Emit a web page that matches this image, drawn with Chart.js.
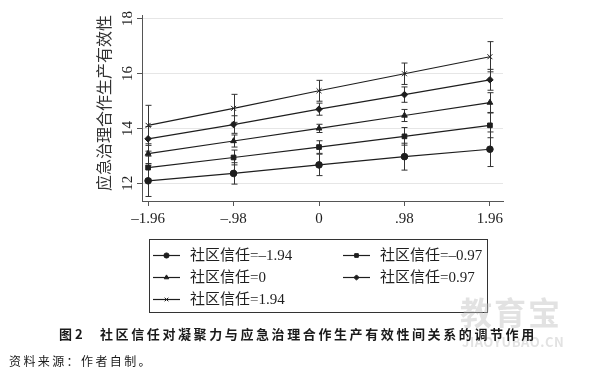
<!DOCTYPE html>
<html>
<head>
<meta charset="utf-8">
<script src="https://cdn.jsdelivr.net/npm/chart.js@4.4.1/dist/chart.umd.min.js"></script>
<style>
  body { margin: 0; background: #fff; }
  #wrap { position: relative; width: 592px; height: 370px; overflow: hidden; }
  #c { position: absolute; left: 0; top: 0; }
  .cap { position: absolute; font-family: 'Noto Sans CJK SC', sans-serif; color: #1a1a1a; white-space: nowrap; }
  .wm { position: absolute; font-family: 'Noto Sans CJK SC', sans-serif; color: rgba(190,190,190,0.45); white-space: nowrap; }
</style>
</head>
<body>
<div id="wrap">
  <canvas id="c" width="592" height="370"></canvas>
  <div class="wm" style="left:460px;top:288px;font-size:32px;font-weight:bold;letter-spacing:2px;">教育宝</div>
  <div class="wm" style="left:462px;top:332px;font-size:13px;font-weight:bold;letter-spacing:0.5px;">JIAOYUBAO.CN</div>
  <div class="cap" style="left:59px;top:324px;font-size:13px;font-weight:bold;">图 2</div>
  <div class="cap" style="left:100px;top:324px;font-size:13px;font-weight:bold;letter-spacing:2.6px;">社区信任对凝聚力与应急治理合作生产有效性间关系的调节作用</div>
  <div class="cap" style="left:9px;top:352px;font-size:12px;letter-spacing:2.4px;">资料来源：作者自制。</div>
</div>
<script>
// x values (cohesion) and tick labels
var xVals = [-1.96, -0.98, 0, 0.98, 1.96];
var xLabels = ['–1.96', '–.98', '0', '.98', '1.96'];
var yTicks = [12, 14, 16, 18];

var trustLabels = ['社区信任=–1.94', '社区信任=–0.97', '社区信任=0', '社区信任=0.97', '社区信任=1.94'];
var pointStyles = ['circle', 'rect', 'triangle', 'rectRot', 'crossRot'];

// predicted values for each trust level
var trustM194 = [12.09, 12.36, 12.67, 12.97, 13.24];
var trustM097 = [12.57, 12.94, 13.32, 13.71, 14.11];
var trust0    = [13.08, 13.54, 14.00, 14.47, 14.94];
var trustP097 = [13.62, 14.14, 14.70, 15.23, 15.77];
var trustP194 = [14.11, 14.73, 15.37, 15.99, 16.61];

// half width of the confidence intervals
var ciM194 = [0.57, 0.39, 0.39, 0.49, 0.63];
var ciM097 = [0.42, 0.27, 0.23, 0.32, 0.45];
var ci0    = [0.36, 0.22, 0.15, 0.22, 0.36];
var ciP097 = [0.45, 0.32, 0.22, 0.28, 0.38];
var ciP194 = [0.73, 0.51, 0.38, 0.39, 0.55];

var seriesVals = [trustM194, trustM097, trust0, trustP097, trustP194];
var seriesCi = [ciM194, ciM097, ci0, ciP097, ciP194];

var serif = "'Liberation Serif', 'Noto Sans CJK SC', serif";
var ink = '#1e1e1e';

var datasets = seriesVals.map(function(vals, i) {
    return {
        label: trustLabels[i],
        data: vals.map(function(v, j) { return {x: xVals[j], y: v}; }),
        borderColor: ink,
        borderWidth: 1.2,
        pointStyle: pointStyles[i],
        pointRadius: i == 4 ? 3.5 : 3.3,
        pointBackgroundColor: ink,
        pointBorderColor: ink,
        pointBorderWidth: 1,
        fill: false,
        tension: 0
    };
});

// error bars with caps, drawn under the lines
var errorBars = {
    id: 'errorBars',
    beforeDatasetsDraw: function(chart) {
        var ctx = chart.ctx, xs = chart.scales.x, ys = chart.scales.y;
        ctx.save();
        ctx.strokeStyle = '#333';
        ctx.lineWidth = 1;
        seriesVals.forEach(function(vals, i) {
            vals.forEach(function(v, j) {
                var px = Math.round(xs.getPixelForValue(xVals[j])) + 0.5;
                var top = ys.getPixelForValue(v + seriesCi[i][j]);
                var bot = ys.getPixelForValue(v - seriesCi[i][j]);
                ctx.beginPath();
                ctx.moveTo(px, top); ctx.lineTo(px, bot);
                ctx.moveTo(px - 3, top); ctx.lineTo(px + 3, top);
                ctx.moveTo(px - 3, bot); ctx.lineTo(px + 3, bot);
                ctx.stroke();
            });
        });
        ctx.restore();
    }
};

// rotated y tick labels and the framed legend
var extras = {
    id: 'extras',
    afterDraw: function(chart) {
        var ctx = chart.ctx, ys = chart.scales.y;
        ctx.save();
        ctx.fillStyle = ink;
        ctx.font = '15px ' + serif;
        ctx.textAlign = 'center';
        ctx.textBaseline = 'middle';
        yTicks.forEach(function(t) {
            ctx.save();
            ctx.translate(128, ys.getPixelForValue(t));
            ctx.rotate(-Math.PI / 2);
            ctx.fillText(String(t), 0, 0);
            ctx.restore();
        });

        ctx.strokeStyle = '#333';
        ctx.lineWidth = 1;
        ctx.strokeRect(149.5, 239.5, 338, 73);

        var spots = [[153, 255], [343, 255], [153, 277], [343, 277], [153, 299]];
        ctx.textAlign = 'left';
        ctx.font = '15px ' + serif;
        spots.forEach(function(p, i) {
            ctx.strokeStyle = ink;
            ctx.fillStyle = ink;
            ctx.lineWidth = 1.2;
            ctx.beginPath();
            ctx.moveTo(p[0], p[1] + 0.5); ctx.lineTo(p[0] + 27, p[1] + 0.5);
            ctx.stroke();
            ctx.lineWidth = 1;
            Chart.helpers.drawPoint(ctx, {pointStyle: pointStyles[i], radius: 2.6, rotation: 0, borderWidth: 1}, p[0] + 13.5, p[1] + 0.5);
            ctx.fillText(trustLabels[i], p[0] + 37, p[1] + 1);
        });
        ctx.restore();
    }
};

var ctx = document.getElementById('c').getContext('2d');
try {
    var chart = new Chart(ctx, {
        type: 'line',
        data: {datasets: datasets},
        plugins: [errorBars, extras],
        options: {
            responsive: false,
            animation: false,
            layout: {padding: {left: 0, right: 89, top: 15, bottom: 139}},
            plugins: {legend: {display: false}, tooltip: {enabled: false}},
            scales: {
                x: {
                    type: 'linear',
                    min: -2.03,
                    max: 2.11,
                    afterBuildTicks: function(scale) {
                        scale.ticks = xVals.map(function(v) { return {value: v}; });
                    },
                    afterFit: function(scale) { scale.height = 30; },
                    grid: {drawOnChartArea: false, drawTicks: true, tickLength: 5, tickColor: '#555'},
                    border: {color: '#555', width: 1},
                    ticks: {
                        font: {family: serif, size: 15},
                        color: ink,
                        padding: 4,
                        maxRotation: 0,
                        autoSkip: false,
                        callback: function(v, i) { return xLabels[i]; }
                    }
                },
                y: {
                    min: 11.355,
                    max: 18.13,
                    afterBuildTicks: function(scale) {
                        scale.ticks = yTicks.map(function(v) { return {value: v}; });
                    },
                    afterFit: function(scale) { scale.width = 142; },
                    grid: {color: '#e6e6e6', lineWidth: 1, drawTicks: true, tickLength: 5, tickColor: '#555'},
                    border: {color: '#555', width: 1},
                    ticks: {display: false},
                    title: {
                        display: true,
                        text: '应急治理合作生产有效性',
                        align: 'end',
                        color: '#333',
                        font: {family: serif, size: 16},
                        padding: {top: 96, bottom: 0}
                    }
                }
            }
        }
    });
} catch (error) {
    console.log(error);
}
</script>
</body>
</html>
